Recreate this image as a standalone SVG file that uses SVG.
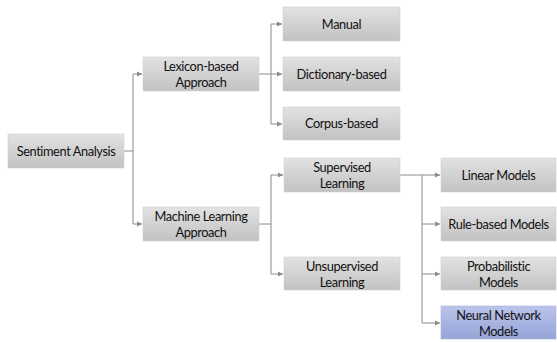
<svg xmlns="http://www.w3.org/2000/svg" width="557" height="342" viewBox="0 0 557 342">
<defs>
<linearGradient id="g" x1="0" y1="0" x2="0" y2="1">
<stop offset="0" stop-color="#e2e2e2"/>
<stop offset="1" stop-color="#c2c2c2"/>
</linearGradient>
<linearGradient id="b" x1="0" y1="0" x2="0" y2="1">
<stop offset="0" stop-color="#bcc4ea"/>
<stop offset="1" stop-color="#95a4d9"/>
</linearGradient>
<marker id="ah" markerWidth="6" markerHeight="6" refX="5" refY="3" orient="auto" markerUnits="userSpaceOnUse">
<path d="M0,0.5 L5,3 L0,5.5 Z" fill="#8a8a8a"/>
</marker>
</defs>
<style>
.box{fill:url(#g);stroke:#d0d0d0;stroke-width:0.6}
.blue{fill:url(#b);stroke:#a8b2de;stroke-width:0.6}
text{font-family:Lato,"Open Sans","DejaVu Sans",sans-serif;font-size:12.8px;letter-spacing:-0.4px;fill:#111;text-anchor:middle}
.c{fill:none;stroke:#8a8a8a;stroke-width:1}
.a{marker-end:url(#ah)}
</style>
<g id="connectors">
<path class="c" d="M124,151 H133 M133,74 V224"/>
<path class="c a" d="M133,74 H142"/>
<path class="c a" d="M133,224 H142"/>
<path class="c" d="M259,74 H271 M271,24 V124"/>
<path class="c a" d="M271,24 H282"/>
<path class="c a" d="M271,74 H282"/>
<path class="c a" d="M271,124 H282"/>
<path class="c" d="M259,224 H271 M271,175 V274"/>
<path class="c a" d="M271,175 H283"/>
<path class="c a" d="M271,274 H283"/>
<path class="c" d="M400,175 H422 M422,175 V323"/>
<path class="c a" d="M422,175 H440"/>
<path class="c a" d="M422,224 H440"/>
<path class="c a" d="M422,274 H440"/>
<path class="c a" d="M422,323 H440"/>
</g>
<g id="sentiment"><rect class="box" x="8" y="134" width="116" height="34"/><text x="66" y="155.5">Sentiment Analysis</text></g>
<g id="lexicon"><rect class="box" x="143" y="57" width="116" height="34"/><text x="201" y="71">Lexicon-based</text><text x="201" y="86.5">Approach</text></g>
<g id="ml"><rect class="box" x="143" y="207" width="116" height="34"/><text x="201" y="221">Machine Learning</text><text x="201" y="236.5">Approach</text></g>
<g id="manual"><rect class="box" x="283" y="7" width="117" height="34"/><text x="341.5" y="28.5">Manual</text></g>
<g id="dictionary"><rect class="box" x="283" y="57" width="117" height="34"/><text x="341.5" y="78.5">Dictionary-based</text></g>
<g id="corpus"><rect class="box" x="283" y="107" width="117" height="33"/><text x="341.5" y="128">Corpus-based</text></g>
<g id="supervised"><rect class="box" x="284" y="158" width="116" height="34"/><text x="342" y="172">Supervised</text><text x="342" y="187.5">Learning</text></g>
<g id="unsupervised"><rect class="box" x="284" y="257" width="116" height="33"/><text x="342" y="271">Unsupervised</text><text x="342" y="286.5">Learning</text></g>
<g id="linear"><rect class="box" x="441" y="158" width="115" height="34"/><text x="498.5" y="179.5">Linear Models</text></g>
<g id="rule"><rect class="box" x="441" y="207" width="115" height="34"/><text x="498.5" y="228.5">Rule-based Models</text></g>
<g id="prob"><rect class="box" x="441" y="257" width="115" height="33"/><text x="498.5" y="271">Probabilistic</text><text x="498.5" y="286.5">Models</text></g>
<g id="neural"><rect class="blue" x="441" y="306" width="115" height="33"/><text x="498.5" y="320">Neural Network</text><text x="498.5" y="335.5">Models</text></g>
</svg>
